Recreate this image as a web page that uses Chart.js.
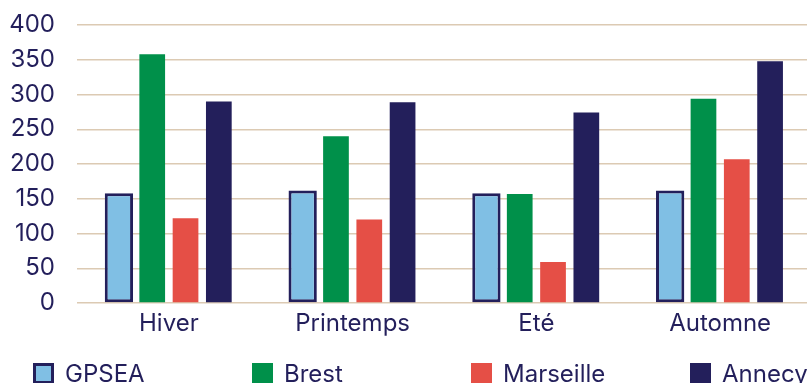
<!DOCTYPE html>
<html lang="fr">
<head>
<meta charset="utf-8">
<title>Saisons</title>
<script src="https://cdn.jsdelivr.net/npm/chart.js@4"></script>
<style>
    html, body {
        margin: 0;
        padding: 0;
        background: #ffffff;
        overflow: hidden;
    }
    .chart-box {
        position: relative;
        width: 812px;
        height: 392px;
    }
</style>
</head>
<body>
<div class="chart-box">
    <canvas id="seasonChart"></canvas>
</div>
<script>
const seasons = ['Hiver', 'Printemps', 'Eté', 'Automne'];
const yTicks = [0, 50, 100, 150, 200, 250, 300, 350, 400];

const gpsea = [158, 162, 158, 162];
const brest = [358, 240, 157, 294];
const marseille = [122, 120, 59, 207];
const annecy = [290, 289, 274, 348];

const navy = '#231f5b';
const fontFamily = 'Inter, "Noto Sans", sans-serif';

// Legend drawn by hand: items sit on a fixed pitch under the axis
const seasonLegend = {
    id: 'seasonLegend',
    afterDraw(chart) {
        const ctx = chart.ctx;
        const boxTop = chart.chartArea.bottom + 60;
        const boxSize = 21;
        ctx.save();
        ctx.font = '24px ' + fontFamily;
        ctx.textBaseline = 'alphabetic';
        ctx.textAlign = 'left';
        chart.data.datasets.forEach((ds, i) => {
            const x = 33 + i * 219;
            ctx.fillStyle = ds.backgroundColor;
            ctx.fillRect(x, boxTop, boxSize, boxSize);
            if (ds.borderWidth) {
                const b = ds.borderWidth;
                ctx.strokeStyle = ds.borderColor;
                ctx.lineWidth = b;
                ctx.strokeRect(x + b / 2, boxTop + b / 2, boxSize - b, boxSize - b);
            }
            ctx.fillStyle = navy;
            ctx.fillText(ds.label, x + 32, boxTop + 19);
        });
        ctx.restore();
    }
};

new Chart(document.getElementById('seasonChart'), {
    type: 'bar',
    data: {
        labels: seasons,
        datasets: [{
            label: 'GPSEA',
            data: gpsea,
            backgroundColor: '#80bfe4',
            borderColor: navy,
            borderWidth: 3,
            borderSkipped: false,
            barPercentage: 0.85
        }, {
            label: 'Brest',
            data: brest,
            backgroundColor: '#00904a'
        }, {
            label: 'Marseille',
            data: marseille,
            backgroundColor: '#e54f46'
        }, {
            label: 'Annecy',
            data: annecy,
            backgroundColor: navy
        }]
    },
    options: {
        responsive: true,
        maintainAspectRatio: false,
        animation: false,
        layout: {
            padding: { top: 25, right: 0, bottom: 54, left: 0 }
        },
        datasets: {
            bar: {
                categoryPercentage: 0.725,
                barPercentage: 0.772
            }
        },
        plugins: {
            legend: { display: false },
            tooltip: { enabled: false }
        },
        scales: {
            x: {
                grid: { display: false, drawTicks: false },
                border: { display: false },
                ticks: {
                    color: navy,
                    padding: 6,
                    font: { family: fontFamily, size: 24 }
                },
                afterFit: scale => { scale.height = 35; }
            },
            y: {
                min: 0,
                max: 400,
                afterBuildTicks: scale => {
                    scale.ticks = yTicks.map(v => ({ value: v }));
                },
                grid: {
                    color: '#dccab3',
                    lineWidth: 1.4,
                    drawTicks: false
                },
                border: { display: false },
                ticks: {
                    color: navy,
                    padding: 22,
                    font: { family: fontFamily, size: 24 }
                },
                // keep the label padding off the top and bottom edges of the plot
                afterFit: scale => {
                    scale.width = 77;
                    scale.paddingTop = 0;
                    scale.paddingBottom = 0;
                }
            }
        }
    },
    plugins: [seasonLegend]
});
</script>
</body>
</html>
